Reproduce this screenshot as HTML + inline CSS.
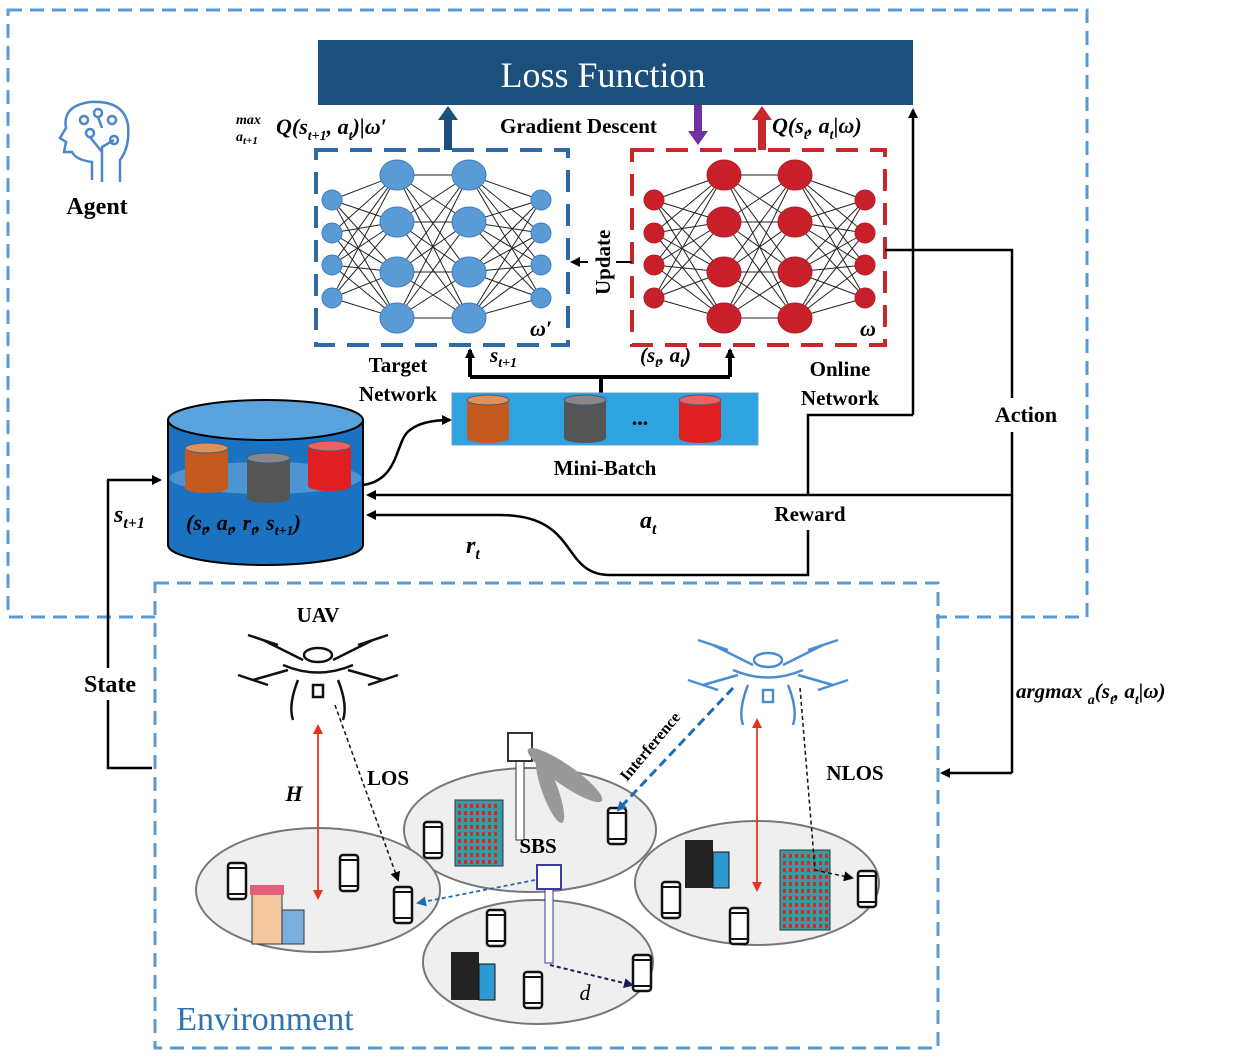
<!DOCTYPE html>
<html><head><meta charset="utf-8"><style>
html,body{margin:0;padding:0;background:#fff;}
svg{display:block;}
text{font-family:"Liberation Serif",serif;font-weight:bold;}
</style></head><body>
<svg id="s" width="1250" height="1057" viewBox="0 0 1250 1057" xmlns="http://www.w3.org/2000/svg">
<defs>
<marker id="ab" markerWidth="10" markerHeight="10" refX="8" refY="5" orient="auto" markerUnits="userSpaceOnUse"><path d="M0,0 L10,5 L0,10 z" fill="#000"/></marker>
<marker id="abl" markerWidth="10" markerHeight="10" refX="8" refY="5" orient="auto" markerUnits="userSpaceOnUse"><path d="M0,0 L10,5 L0,10 z" fill="#1d6bb5"/></marker>
<marker id="anv" markerWidth="10" markerHeight="10" refX="8" refY="5" orient="auto" markerUnits="userSpaceOnUse"><path d="M0,0 L10,5 L0,10 z" fill="#1a1a5e"/></marker>
<marker id="ar" markerWidth="10" markerHeight="10" refX="8" refY="5" orient="auto" markerUnits="userSpaceOnUse"><path d="M0,0 L10,5 L0,10 z" fill="#e8321e"/></marker>
</defs>
<rect x="8" y="10" width="1079" height="607" fill="none" stroke="#5b9bd5" stroke-width="3" stroke-dasharray="14,8"/>
<rect x="155" y="583" width="783" height="465" fill="none" stroke="#5b9bd5" stroke-width="3" stroke-dasharray="14,8"/>
<rect x="157" y="585" width="779" height="36" fill="#fff"/>
<rect x="318" y="40" width="595" height="65" fill="#1d4f7c"/>
<text x="603" y="87" text-anchor="middle" fill="#fff" font-size="36" style="font-weight:normal">Loss Function</text>
<rect x="444" y="118" width="8" height="32" fill="#1d4f7c"/><path d="M438,120 L448,106 L458,120z" fill="#1d4f7c"/>
<rect x="694" y="105" width="8" height="28" fill="#7030a0"/><path d="M688,131 L698,145 L708,131z" fill="#7030a0"/>
<rect x="758" y="118" width="8" height="32" fill="#c8282d"/><path d="M752,120 L762,106 L772,120z" fill="#c8282d"/>
<text x="276" y="134" font-size="22" font-style="italic">Q(s<tspan font-size="14" dy="6">t+1</tspan><tspan dy="-6">, a</tspan><tspan font-size="14" dy="6">t</tspan><tspan dy="-6">)|ω′</tspan></text>
<text x="236" y="124" font-size="14" font-style="italic">max</text>
<text x="236" y="141" font-size="14" font-style="italic">a<tspan font-size="11" dy="3">t+1</tspan></text>
<text x="500" y="133" font-size="21">Gradient Descent</text>
<text x="772" y="133" font-size="22" font-style="italic">Q(s<tspan font-size="14" dy="6">t</tspan><tspan dy="-6">, a</tspan><tspan font-size="14" dy="6">t</tspan><tspan dy="-6">|ω)</tspan></text>
<rect x="316" y="150" width="252" height="195" fill="none" stroke="#2e6aa6" stroke-width="4" stroke-dasharray="22,12"/>
<rect x="632" y="150" width="253" height="195" fill="none" stroke="#c8282d" stroke-width="4" stroke-dasharray="22,12"/>
<g id="nets"></g>
<text x="530" y="336" font-size="22" font-style="italic">ω′</text>
<text x="860" y="336" font-size="22" font-style="italic">ω</text>
<line x1="632" y1="262" x2="572" y2="262" stroke="#000" stroke-width="2" marker-end="url(#ab)"/>
<rect x="588" y="210" width="28" height="90" fill="#fff"/>
<text transform="translate(610,295) rotate(-90)" font-size="21">Update</text>
<text x="398" y="372" text-anchor="middle" font-size="21">Target</text>
<text x="398" y="401" text-anchor="middle" font-size="21">Network</text>
<text x="840" y="376" text-anchor="middle" font-size="21">Online</text>
<text x="840" y="405" text-anchor="middle" font-size="21">Network</text>
<text x="490" y="362" font-size="21" font-style="italic">s<tspan font-size="14" dy="5">t+1</tspan></text>
<text x="640" y="362" font-size="21" font-style="italic">(s<tspan font-size="14" dy="5">t</tspan><tspan dy="-5">, a</tspan><tspan font-size="14" dy="5">t</tspan><tspan dy="-5">)</tspan></text>
<path d="M601,393 L601,377 M470,377 L730,377" stroke="#000" stroke-width="4" fill="none"/>
<line x1="470" y1="377" x2="470" y2="350" stroke="#000" stroke-width="4" marker-end="url(#ab)"/>
<line x1="730" y1="377" x2="730" y2="350" stroke="#000" stroke-width="4" marker-end="url(#ab)"/>
<rect x="452" y="393" width="306" height="52" fill="#2ea3e0" stroke="#6a9fc8"/>
<g id="mb"></g>
<text x="640" y="425" text-anchor="middle" font-size="22">...</text>
<text x="605" y="475" text-anchor="middle" font-size="21">Mini-Batch</text>
<g stroke="#4a86c8" stroke-width="2.5" fill="none">
<path d="M92,180 L92,162 Q76,160 72,152 L64,152 L66,142 L60,138 L66,128 Q62,106 90,102 Q124,100 128,125 Q130,147 120,160 L120,182"/>
<circle cx="84" cy="120" r="4"/><circle cx="98" cy="113" r="4"/><circle cx="112" cy="120" r="4"/><circle cx="90" cy="133" r="4"/><circle cx="114" cy="140" r="4"/>
<path d="M102,182 L102,147 L114,140 M102,152 L90,137 M102,128 L98,117"/>
</g>
<text x="97" y="214" text-anchor="middle" font-size="24">Agent</text>
<path d="M168,420 L168,545 A97.5,20 0 0 0 363,545 L363,420 z" fill="#1b72c0" stroke="#000" stroke-width="2"/>
<ellipse cx="265.5" cy="420" rx="97.5" ry="20" fill="#5aa3dc" stroke="#000" stroke-width="2"/>
<ellipse cx="265.5" cy="478" rx="96" ry="16" fill="#5a9cd6" opacity="0.8"/>
<g id="cyl"></g>
<text x="186" y="530" font-size="22" font-style="italic" fill="#000">(s<tspan font-size="14" dy="5">t</tspan><tspan dy="-5">, a</tspan><tspan font-size="14" dy="5">t</tspan><tspan dy="-5">, r</tspan><tspan font-size="14" dy="5">t</tspan><tspan dy="-5">, s</tspan><tspan font-size="14" dy="5">t+1</tspan><tspan dy="-5">)</tspan></text>
<path d="M363,485 C400,480 395,440 410,430 C420,422 435,420 450,420" stroke="#000" stroke-width="2.5" fill="none" marker-end="url(#ab)"/>
<path d="M885,250 L1012,250 L1012,398 M1012,432 L1012,773" stroke="#000" stroke-width="2.5" fill="none"/>
<line x1="1012" y1="773" x2="942" y2="773" stroke="#000" stroke-width="2.5" marker-end="url(#ab)"/>
<text x="1026" y="422" text-anchor="middle" font-size="22">Action</text>
<line x1="1012" y1="495" x2="368" y2="495" stroke="#000" stroke-width="2.5" marker-end="url(#ab)"/>
<path d="M808,495 L808,415 L913,415" stroke="#000" stroke-width="2.5" fill="none"/>
<line x1="913" y1="415" x2="913" y2="110" stroke="#000" stroke-width="2.5" marker-end="url(#ab)"/>
<text x="810" y="521" text-anchor="middle" font-size="21">Reward</text>
<path d="M808,530 L808,575 L610,575 C560,575 580,515 500,515 L368,515" stroke="#000" stroke-width="2.5" fill="none" marker-end="url(#ab)"/>
<text x="640" y="528" font-size="24" font-style="italic">a<tspan font-size="16" dy="6">t</tspan></text>
<text x="466" y="553" font-size="24" font-style="italic">r<tspan font-size="16" dy="6">t</tspan></text>
<text x="1016" y="698" font-size="21" font-style="italic">argmax <tspan font-size="14" dy="6">a</tspan><tspan dy="-6">(s</tspan><tspan font-size="14" dy="6">t</tspan><tspan dy="-6">, a</tspan><tspan font-size="14" dy="6">t</tspan><tspan dy="-6">|ω)</tspan></text>
<path d="M152,768 L108,768 L108,700 M108,668 L108,480" stroke="#000" stroke-width="2.5" fill="none"/>
<line x1="107" y1="480" x2="160" y2="480" stroke="#000" stroke-width="2.5" marker-end="url(#ab)"/>
<text x="110" y="692" text-anchor="middle" font-size="24">State</text>
<text x="114" y="522" font-size="24" font-style="italic">s<tspan font-size="16" dy="6">t+1</tspan></text>
<g fill="#efefef" stroke="#777" stroke-width="2">
<ellipse cx="530" cy="830" rx="126" ry="62"/>
<ellipse cx="318" cy="890" rx="122" ry="62"/>
<ellipse cx="538" cy="962" rx="115" ry="62"/>
<ellipse cx="757" cy="883" rx="122" ry="62"/>
</g>
<g id="env"></g>
<text x="265" y="1030" text-anchor="middle" font-size="34" fill="#2e74b5" style="font-weight:normal">Environment</text>
<text x="318" y="622" text-anchor="middle" font-size="21">UAV</text>
<text x="388" y="785" text-anchor="middle" font-size="21">LOS</text>
<text x="855" y="780" text-anchor="middle" font-size="21">NLOS</text>
<text x="294" y="801" text-anchor="middle" font-size="22" font-style="italic">H</text>
<text x="538" y="853" text-anchor="middle" font-size="21">SBS</text>
<text x="585" y="1000" text-anchor="middle" font-size="22" font-style="italic" style="font-weight:normal">d</text>
<text transform="translate(627,782) rotate(-50)" font-size="16">Interference</text>
</svg>
<script>
var NS="http://www.w3.org/2000/svg";
function el(p,t,a){var e=document.createElementNS(NS,t);for(var k in a)e.setAttribute(k,a[k]);p.appendChild(e);return e;}
var nets=document.getElementById("nets");
function net(xs,fill){
 var sy=[200,233,265,298],by=[175,222,272,318];
 var L=[[xs[0],sy],[xs[1],by],[xs[2],by],[xs[3],sy]];
 for(var l=0;l<3;l++)for(var i=0;i<4;i++)for(var j=0;j<4;j++)
  el(nets,"line",{x1:L[l][0],y1:L[l][1][i],x2:L[l+1][0],y2:L[l+1][1][j],stroke:"#222","stroke-width":1});
 for(var l=0;l<4;l++)for(var i=0;i<4;i++){var big=(l==1||l==2);
  el(nets,"ellipse",{cx:L[l][0],cy:L[l][1][i],rx:big?17:10,ry:big?15:10,fill:fill,stroke:fill=="#5b9bd5"?"#3d7cc0":"#b01e22"});}
}
net([332,397,469,541],"#5b9bd5");net([654,724,795,865],"#c8202a");
function cyl(g,x,y,w,h,c,t){el(g,"rect",{x:x,y:y,width:w,height:h,fill:c});el(g,"ellipse",{cx:x+w/2,cy:y+h,rx:w/2,ry:5,fill:c});el(g,"ellipse",{cx:x+w/2,cy:y,rx:w/2,ry:5,fill:t,stroke:"#3a5f80"});}
var mb=document.getElementById("mb");
cyl(mb,467,400,42,38,"#c55a1f","#e0905a");cyl(mb,564,400,42,38,"#555","#888");cyl(mb,679,400,42,38,"#e02020","#f06060");
var cy=document.getElementById("cyl");
cyl(cy,185,448,43,40,"#c55a1f","#e0905a");cyl(cy,247,458,43,40,"#555","#888");cyl(cy,308,446,43,40,"#e02020","#f06060");
var env=document.getElementById("env");
function phone(x,y){el(env,"rect",{x:x,y:y,width:18,height:36,rx:3,fill:"#fff",stroke:"#111","stroke-width":2.5});el(env,"line",{x1:x,y1:y+5,x2:x+18,y2:y+5,stroke:"#111","stroke-width":2});el(env,"line",{x1:x,y1:y+31,x2:x+18,y2:y+31,stroke:"#111","stroke-width":2});}
[[228,863],[340,855],[394,887],[424,822],[608,808],[487,910],[524,972],[633,955],[662,882],[730,908],[858,871]].forEach(function(p){phone(p[0],p[1]);});
function bld(x,y,w,h,c){el(env,"rect",{x:x,y:y,width:w,height:h,fill:c,stroke:"#333"});for(var i=x+3;i<x+w-3;i+=6)for(var j=y+4;j<y+h-4;j+=7)el(env,"rect",{x:i,y:j,width:3,height:4,fill:"#c03030"});}
bld(455,800,48,66,"#3a9aa0");bld(780,850,50,80,"#3a9aa0");
function dark(x,y){el(env,"rect",{x:x,y:y,width:28,height:48,fill:"#222"});el(env,"rect",{x:x+28,y:y+12,width:16,height:36,fill:"#2a9ad0",stroke:"#111"});}
dark(685,840);dark(451,952);
el(env,"rect",{x:252,y:892,width:30,height:52,fill:"#f3c8a0",stroke:"#333"});el(env,"rect",{x:250,y:885,width:34,height:10,fill:"#e0607a"});el(env,"rect",{x:282,y:910,width:22,height:34,fill:"#7ab0e0",stroke:"#333"});
el(env,"rect",{x:516,y:760,width:8,height:80,fill:"#fff",stroke:"#333"});el(env,"rect",{x:508,y:733,width:24,height:28,fill:"#fff",stroke:"#333","stroke-width":2});
el(env,"ellipse",{cx:565,cy:775,rx:45,ry:10,fill:"#999",transform:"rotate(35 565 775)"});el(env,"ellipse",{cx:550,cy:790,rx:35,ry:8,fill:"#999",transform:"rotate(70 550 790)"});
el(env,"rect",{x:545,y:885,width:8,height:78,fill:"#fff",stroke:"#3a3aa0"});el(env,"rect",{x:537,y:865,width:24,height:24,fill:"#fff",stroke:"#3a3aa0","stroke-width":2});
function drone(cx,cy,c){var g=el(env,"g",{stroke:c,"stroke-width":2.5,fill:"none"});
 el(g,"ellipse",{cx:cx,cy:cy,rx:14,ry:7});el(g,"path",{d:"M"+(cx-35)+","+(cy+10)+" Q"+cx+","+(cy+25)+" "+(cx+35)+","+(cy+10)});
 el(g,"path",{d:"M"+(cx-15)+","+(cy+5)+" L"+(cx-55)+","+(cy-15)+" M"+(cx+15)+","+(cy+5)+" L"+(cx+55)+","+(cy-15)+" M"+(cx-30)+","+(cy+15)+" L"+(cx-65)+","+(cy+25)+" M"+(cx+30)+","+(cy+15)+" L"+(cx+65)+","+(cy+25)});
 el(g,"path",{d:"M"+(cx-70)+","+(cy-20)+" L"+(cx-40)+","+(cy-10)+" M"+(cx+40)+","+(cy-10)+" L"+(cx+70)+","+(cy-20)+" M"+(cx-80)+","+(cy+20)+" L"+(cx-50)+","+(cy+30)+" M"+(cx+50)+","+(cy+30)+" L"+(cx+80)+","+(cy+20)});
 el(g,"path",{d:"M"+(cx-20)+","+(cy+25)+" Q"+(cx-30)+","+(cy+50)+" "+(cx-25)+","+(cy+65)+" M"+(cx+20)+","+(cy+25)+" Q"+(cx+30)+","+(cy+50)+" "+(cx+25)+","+(cy+65)});
 el(g,"rect",{x:cx-5,y:cy+30,width:10,height:12});}
drone(318,655,"#111");drone(768,660,"#4a8cd0");
el(env,"line",{x1:318,y1:726,x2:318,y2:898,stroke:"#e8321e","stroke-width":1.5,"marker-end":"url(#ar)"});
el(env,"line",{x1:318,y1:898,x2:318,y2:726,stroke:"#e8321e","stroke-width":1.5,"marker-end":"url(#ar)"});
el(env,"line",{x1:757,y1:720,x2:757,y2:890,stroke:"#e8321e","stroke-width":1.5,"marker-end":"url(#ar)"});
el(env,"line",{x1:757,y1:890,x2:757,y2:720,stroke:"#e8321e","stroke-width":1.5,"marker-end":"url(#ar)"});
el(env,"line",{x1:335,y1:705,x2:398,y2:880,stroke:"#111","stroke-width":1.5,"stroke-dasharray":"4,3","marker-end":"url(#ab)"});
el(env,"path",{d:"M800,688 L815,870 L852,878",stroke:"#111","stroke-width":1.5,fill:"none","stroke-dasharray":"4,3","marker-end":"url(#ab)"});
el(env,"line",{x1:733,y1:688,x2:618,y2:810,stroke:"#1d6bb5","stroke-width":3,"stroke-dasharray":"9,5","marker-end":"url(#abl)"});
el(env,"line",{x1:535,y1:880,x2:418,y2:903,stroke:"#1d6bb5","stroke-width":1.8,"stroke-dasharray":"4,3","marker-end":"url(#abl)"});
el(env,"line",{x1:550,y1:965,x2:632,y2:985,stroke:"#1a1a5e","stroke-width":2,"stroke-dasharray":"4,3","marker-end":"url(#anv)"});
</script>
</body></html>
